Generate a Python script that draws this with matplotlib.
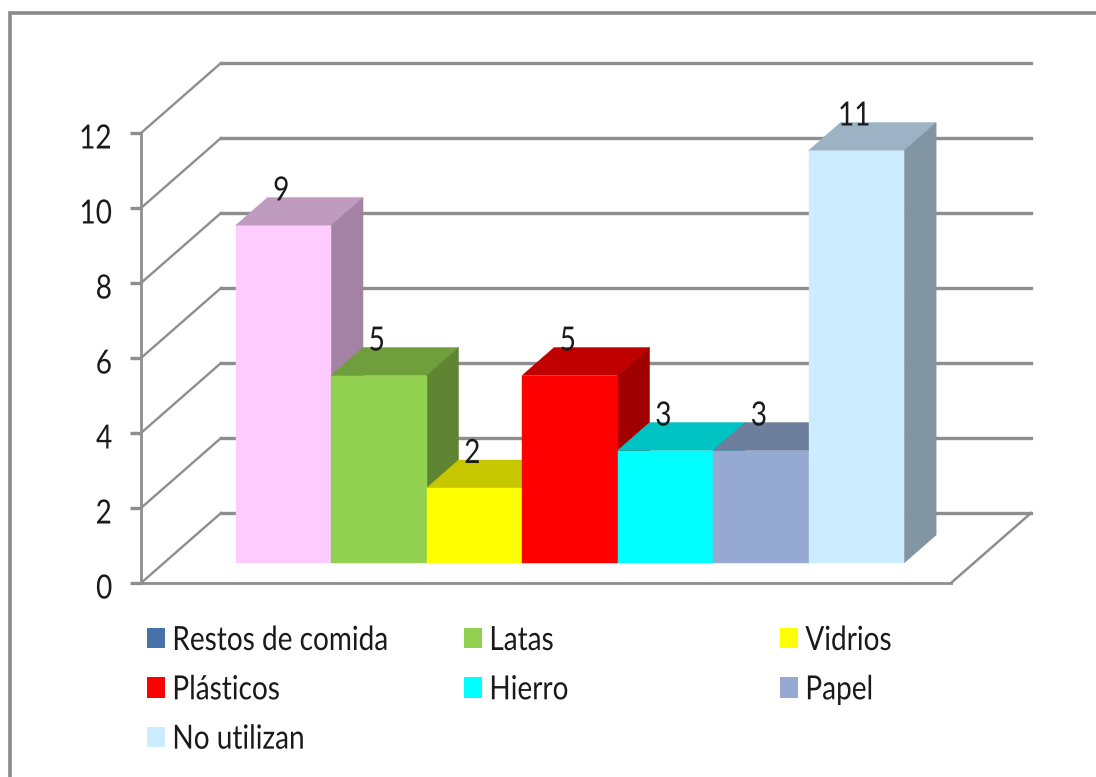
import matplotlib
matplotlib.use("Agg")
import matplotlib.pyplot as plt
from matplotlib.lines import Line2D
from matplotlib.patches import Patch, Polygon
from matplotlib.patheffects import AbstractPathEffect
from matplotlib.transforms import Affine2D, ScaledTranslation

plt.rcParams["font.family"] = ["Lato", "DejaVu Sans"]

# Data
bar_values = [9, 5, 2, 5, 3, 3, 11]
front_colors = ["#FFCCFF", "#92D050", "#FFFF00", "#FF0000", "#00FFFF", "#95A9D2", "#CCECFF"]
top_colors = ["#C09BC0", "#6F9E3D", "#C7C700", "#C00000", "#00C4C4", "#6E7F9E", "#9DB3C5"]
side_colors = ["#A382A3", "#5F8533", "#A6A600", "#A00000", "#00A6A6", "#5F6E89", "#8295A2"]
y_ticks = [0, 2, 4, 6, 8, 10, 12]
legend_col1 = [("Restos de comida", "#4572A7"), ("Plásticos", "#FF0000"), ("No utilizan", "#CCECFF")]
legend_col2 = [("Latas", "#92D050"), ("Hierro", "#00FFFF")]
legend_col3 = [("Vidrios", "#FFFF00"), ("Papel", "#95A9D2")]

W, H = 1096, 777
GRID = "#8E8E8E"
TEXT = "#1A1A1A"
FS = 24
SQUEEZE = 0.84


class Squeeze(AbstractPathEffect):
    """Draw text narrower, keeping a chosen fraction of its width fixed."""

    def __init__(self, sx, align):
        super().__init__()
        self.sx, self.align = sx, align

    def draw_path(self, renderer, gc, tpath, affine, rgbFace=None):
        width = tpath.get_extents(affine).width
        m = affine.get_matrix().copy()
        m[0, 0] *= self.sx
        m[0, 1] *= self.sx
        m[0, 2] += (1 - self.sx) * self.align * width
        renderer.draw_path(gc, tpath, Affine2D(m), rgbFace)


fig = plt.figure(figsize=(W / 100, H / 100), dpi=100, facecolor="white")
ax = fig.add_axes([141 / W, (H - 583) / H, 810 / W, 450 / H])
ax.set_xlim(0, 8.48)
ax.set_ylim(0, 12)
ax.set_facecolor("none")

DX = 80 / 95.5   # full floor depth, in bar widths
DY = 70 / 37.5   # full floor depth, in value units
BAR_FRONT, BAR_BACK = 20 / 70, 48 / 70
FIRST = 0.75


def proj(x, y, d):
    return (x + d * DX, y + d * DY)


# Chart frame (figure coordinates)
fig.add_artist(Line2D([10 / W, 10 / W, 1], [0, 1 - 13 / H, 1 - 13 / H],
                      color="#8A8A8A", lw=2.6, solid_joinstyle="miter"))

# Gridlines on the side wall and back wall
x_end = ax.get_xlim()[1]
for v in y_ticks:
    p0, p1 = proj(0, v, 0), proj(0, v, 1)
    p2 = proj(x_end, v, 1)
    ax.plot([p0[0], p1[0]], [p0[1], p1[1]], color=GRID, lw=1.7, clip_on=False, zorder=1)
    ax.plot([p1[0], p2[0]], [p1[1], p2[1]], color=GRID, lw=2.4, clip_on=False, zorder=1)

# Floor right edge
p0, p1 = proj(x_end, 0, 0), proj(x_end, 0, 1)
ax.plot([p0[0], p1[0]], [p0[1], p1[1]], color=GRID, lw=1.8, clip_on=False, zorder=1)

# Bars
z = 2
for i, (v, fc, tc, sc) in enumerate(zip(bar_values, front_colors, top_colors, side_colors)):
    x0, x1 = FIRST + i, FIRST + i + 1
    top = [proj(x0, v, BAR_FRONT), proj(x1, v, BAR_FRONT), proj(x1, v, BAR_BACK), proj(x0, v, BAR_BACK)]
    side = [proj(x1, 0, BAR_FRONT), proj(x1, 0, BAR_BACK), proj(x1, v, BAR_BACK), proj(x1, v, BAR_FRONT)]
    front = [proj(x0, 0, BAR_FRONT), proj(x1, 0, BAR_FRONT), proj(x1, v, BAR_FRONT), proj(x0, v, BAR_FRONT)]
    for pts, col in ((top, tc), (side, sc), (front, fc)):
        ax.add_patch(Polygon(pts, closed=True, facecolor=col, edgecolor=col, lw=0.3,
                             clip_on=False, zorder=z))
        z += 1

# Value labels
for i, v in enumerate(bar_values):
    lx, ly = proj(FIRST + i + 0.5, v, BAR_FRONT)
    t = ax.annotate(str(v), (lx, ly), xytext=(-1.2, 24.5), textcoords="offset points",
                    ha="center", va="center", fontsize=FS, color=TEXT, zorder=z + 1,
                    annotation_clip=False)
    t.set_path_effects([Squeeze(SQUEEZE, 0.5)])

# Axes
for s in ("top", "right"):
    ax.spines[s].set_visible(False)
for s in ("left", "bottom"):
    ax.spines[s].set_color(GRID)
    ax.spines[s].set_linewidth(2.0)
ax.set_xticks([])
ax.set_yticks(y_ticks)
ax.tick_params(axis="y", length=8, width=2.4, color=GRID, pad=12.5, labelsize=FS, labelcolor=TEXT)
for lab in ax.get_yticklabels():
    lab.set_transform(lab.get_transform() + ScaledTranslation(0, -3.5 / 100, fig.dpi_scale_trans))
    lab.set_path_effects([Squeeze(SQUEEZE, 1.0)])


# Legend: three independently placed columns
def column(entries, left_px):
    handles = [Patch(facecolor=c, edgecolor="none", label=t) for t, c in entries]
    leg = fig.legend(handles=handles, loc="upper left",
                     bbox_to_anchor=(left_px / W, 1 - 626 / H),
                     frameon=False, fontsize=FS, labelcolor=TEXT,
                     handlelength=0.54, handleheight=0.57, handletextpad=0.22,
                     borderaxespad=0, borderpad=0, labelspacing=0.58)
    for t in leg.get_texts():
        t.set_path_effects([Squeeze(SQUEEZE, 0.0)])
    return leg


column(legend_col1, 147)
column(legend_col2, 464)
column(legend_col3, 780)

fig.savefig("out.png", dpi=100, facecolor="white")
